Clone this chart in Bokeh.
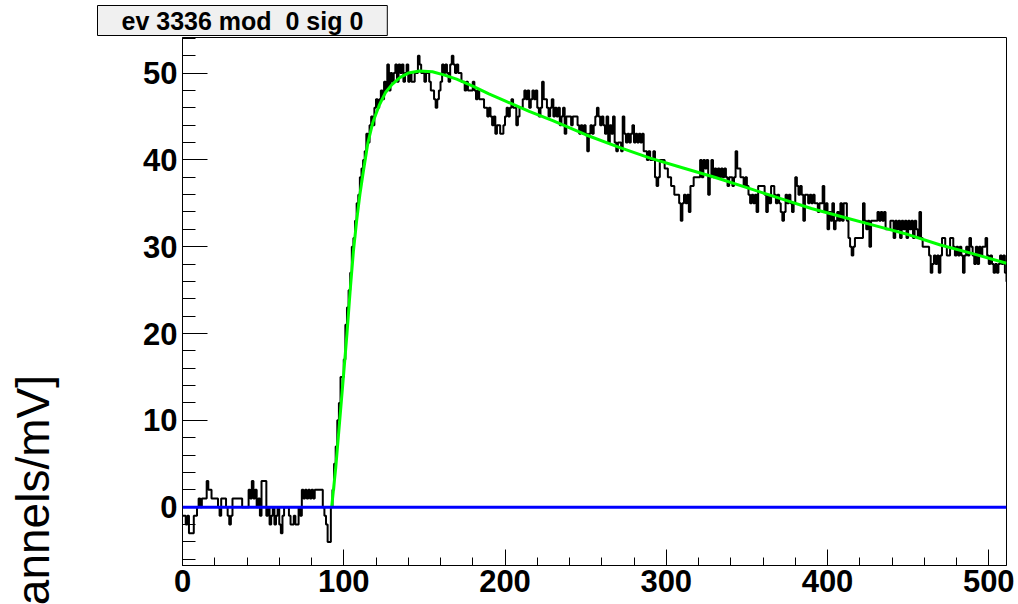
import numpy as np
from bokeh.plotting import figure
from bokeh.models import Range1d, Span, SingleIntervalTicker, Title
from bokeh.embed import file_html
from bokeh.resources import INLINE

# ADC samples of the trace, one value per sample bin (512 bins)
pre_trigger = [-1, -1, -2, -1, -3, -3, -3, -1, -1, 0,
               1, 0, 1, 1, 1, 3, 2, 2, 1, 1,
               1, 1, 0, -1, 1, 1, 1, 0, -1, -2,
               -1, 1, 1, 1, 1, 1, 1, 0, 0, 0,
               0, 2, 1, 3, 1, 2, 0, 1, -1, 3,
               3, 3, -1, 0, -2, -1, 0, -2, -1, 0,
               -2, -3, -1, 0, 0, 0, -1, -2, -2, -1,
               -2, -2, 0, -1, 2, 1, 2, 1, 2, 1,
               2, 1, 2, 2, 2, 2, 2, 0, -1, -2,
               -4, -4]
leading_edge = [0, 2, 5, 7, 10, 12, 15, 15, 17, 21,
                23, 25, 27, 30, 31, 33, 35, 36, 38, 39,
                40, 41, 43, 42, 44, 45, 44, 46, 47, 46,
                47, 48, 47, 49, 48, 51, 48, 50, 49]
peak_region = [50, 51, 49, 51, 50, 51, 49, 50, 51, 49,
               50, 49, 49, 50, 50, 52, 51, 50, 50, 49,
               50, 50, 49, 48, 48, 47, 46, 47, 48, 49,
               51, 50, 51, 50, 49, 51, 52, 51, 50, 51,
               50, 50, 49, 49, 48, 49, 48, 48, 48, 49,
               48, 47, 48, 47, 47, 47, 46, 46, 45, 46,
               45, 44, 45, 43, 44, 44, 43, 43, 44, 45,
               46, 45, 46, 47, 46, 46, 44, 45, 46, 46,
               47, 48, 47, 48, 46, 47, 48, 47, 48, 46,
               45, 46, 49, 47, 47, 46, 45, 46, 47, 45,
               46, 45, 46, 44, 45]
decay = [46, 43, 45, 45, 45, 44, 45, 45, 45, 44,
         43, 44, 43, 44, 43, 41, 43, 44, 43, 44,
         45, 46, 45, 44, 45, 44, 43, 45, 42, 44,
         43, 45, 42, 41, 42, 42, 41, 45, 43, 42,
         43, 42, 43, 44, 42, 43, 42, 43, 42, 43,
         41, 41, 40, 41, 40, 40, 41, 38, 37, 38,
         40, 40, 40, 39, 39, 38, 38, 37, 37, 36,
         36, 36, 35, 33, 35, 36, 35, 36, 34, 37,
         37, 38, 38, 38, 38, 40, 38, 40, 39, 40,
         36, 38, 40, 38, 39, 38, 39, 38, 39, 38,
         39, 38, 37, 38, 38, 37, 38, 41, 39, 39,
         38, 38, 37, 38, 37, 36, 35, 36, 35, 36,
         34, 37, 37, 37, 37, 36, 34, 36, 35, 37,
         37, 36, 35, 36, 35, 34, 33, 34, 36, 35,
         36, 35]
tail = [34, 35, 38, 37, 36, 37, 36, 33, 36, 36,
        35, 36, 35, 36, 35, 35, 34, 35, 35, 37,
        34, 35, 32, 34, 33, 35, 32, 33, 34, 33,
        35, 33, 35, 35, 33, 31, 30, 29, 30, 31,
        31, 31, 31, 31, 35, 33, 32, 33, 30, 33,
        33, 33, 33, 34, 33, 34, 33, 34, 32, 32,
        32, 33, 33, 31, 33, 32, 33, 31, 33, 32,
        33, 31, 33, 32, 33, 31, 33, 32, 31, 34,
        31, 30, 30, 30, 30, 29, 27, 28, 29, 28,
        29, 27, 29, 31, 31, 30, 29, 29, 31, 31,
        30, 29, 30, 29, 30, 29, 27, 29, 30, 29,
        31, 30, 29, 28, 30, 28, 30, 29, 30, 30,
        31, 29, 28, 29, 28, 27, 28, 27, 28, 29,
        28, 29, 27, 26]

# pulse fit curve (sample, amplitude)
fit_x = [92.5, 95, 97.5, 100, 102, 104, 106, 108, 110, 112,
         115, 118, 122, 126, 130, 135, 140, 147, 155, 162,
         170, 180, 190, 200, 215, 230, 250, 270, 290, 310,
         330, 350, 370, 390, 410, 430, 450, 470, 490, 511]
fit_y = [0, 4.5, 10, 15.5, 20, 25, 29.5, 33, 36, 38.5,
         42, 44.3, 46.3, 47.8, 48.7, 49.5, 50.0, 50.25, 50.15, 49.8,
         49.3, 48.5, 47.6, 46.8, 45.6, 44.5, 42.9, 41.5, 40.2, 39.1,
         38.0, 36.8, 35.6, 34.4, 33.4, 32.4, 31.4, 30.2, 29.2, 28.1]

baseline_level = 0
title_text = "ev 3336 mod\u00a0 0 sig 0"
y_title = "[channels/mV]"

counts = pre_trigger + leading_edge + peak_region + decay + tail
edges = np.arange(len(counts) + 1)
step_y = counts + [counts[-1]]

FONT = "Liberation Sans"

p = figure(width=1018, height=604,
           x_range=Range1d(0, 511), y_range=Range1d(-6.72, 54.1),
           output_backend="svg", toolbar_location=None,
           min_border_left=182, min_border_right=12,
           min_border_top=37, min_border_bottom=39)
p.xgrid.visible = False
p.ygrid.visible = False
p.background_fill_color = "white"
p.border_fill_color = "white"
p.outline_line_color = "black"
p.outline_line_width = 1

p.xaxis.ticker = SingleIntervalTicker(interval=100, num_minor_ticks=5)
p.yaxis.ticker = SingleIntervalTicker(interval=10, num_minor_ticks=5)
for ax, maj, mnr in ((p.xaxis, 16, 8), (p.yaxis, 25, 13)):
    ax.major_tick_out = 0
    ax.minor_tick_out = 0
    ax.major_tick_in = maj
    ax.minor_tick_in = mnr
    ax.axis_line_color = "black"
    ax.major_tick_line_color = "black"
    ax.minor_tick_line_color = "black"
    ax.major_label_text_font = FONT
    ax.major_label_text_font_style = "bold"
    ax.major_label_text_font_size = "31px"
    ax.major_label_text_color = "black"
p.xaxis.major_label_standoff = 4
p.yaxis.major_label_standoff = 5

# histogram outline
p.step(x=edges, y=step_y, mode="after", line_color="black", line_width=2)

# fit curve
p.line(x=fit_x, y=fit_y, line_color="#00ff00", line_width=3)

# baseline
p.add_layout(Span(location=baseline_level, dimension="width",
                  line_color="#0000ff", line_width=3))

# event header in a framed box above the plot
p.title.text = title_text
p.title.align = "left"
p.title.offset = -85
p.title.standoff = 4
p.title.text_font = FONT
p.title.text_font_style = "bold"
p.title.text_font_size = "25px"
p.title.text_color = "black"
p.title.background_fill_color = "#f0f0f0"
p.title.border_line_color = "black"
p.title.border_line_width = 1
p.title.padding = dict(left=24, right=24, top=1, bottom=1)

# blank gap between the tick labels and the y axis title
p.add_layout(Title(text=" ", standoff=77, text_font_size="1px"), "left")

# y axis title, running past the bottom edge of the canvas
p.add_layout(Title(text=y_title, align="left", offset=-101, standoff=0,
                   vertical_align="top",
                   text_font=FONT, text_font_style="normal",
                   text_font_size="46px", text_color="black"), "left")

open("out.html", "w").write(file_html(p, INLINE))
